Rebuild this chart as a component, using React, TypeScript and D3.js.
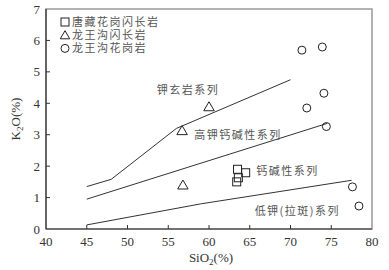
import React from "react";
import * as d3 from "d3";

const xTicks = [40, 45, 50, 55, 60, 65, 70, 75, 80];
const yTicks = [0, 1, 2, 3, 4, 5, 6, 7];

const squareX = [63.5, 64.5, 63.6, 63.4];
const squareY = [1.9, 1.79, 1.63, 1.5];
const triX = [56.7, 60.0, 56.8];
const triY = [3.13, 3.89, 1.4];
const circX = [71.4, 73.9, 74.1, 72.0, 74.4, 77.6, 78.4];
const circY = [5.69, 5.79, 4.32, 3.85, 3.26, 1.34, 0.73];

const lineShoshX = [45, 48, 56, 70];
const lineShoshY = [1.35, 1.58, 3.2, 4.75];
const lineHighKX = [45, 74.5];
const lineHighKY = [0.95, 3.36];
const lineLowKX = [45, 59, 77.5];
const lineLowKY = [0.13, 0.8, 1.55];

const legendLabels = ["唐藏花岗闪长岩", "龙王沟闪长岩", "龙王沟花岗岩"];
const seriesLabels = [
  { text: "钾玄岩系列", x: 53.6, y: 4.3 },
  { text: "高钾钙碱性系列", x: 58.2, y: 2.85 },
  { text: "钙碱性系列", x: 65.8, y: 1.73 },
  { text: "低钾(拉斑)系列", x: 65.6, y: 0.43 },
];

const W = 389, H = 270;
const left = 46, right = 372, top = 9, bottom = 229;

export default function App() {
  const x = d3.scaleLinear().domain([40, 80]).range([left, right]);
  const y = d3.scaleLinear().domain([0, 7]).range([bottom, top]);
  const line = d3.line<[number, number]>().x(d => x(d[0])).y(d => y(d[1]));
  const zip = (a: number[], b: number[]) => a.map((v, i) => [v, b[i]] as [number, number]);
  const serif = "'Liberation Serif', 'Times New Roman', serif";
  const cjk = "'Noto Sans CJK SC', sans-serif";
  const tri = (cx: number, cy: number, s = 5) =>
    `M${cx},${cy - s}L${cx + s * 1.05},${cy + s * 0.8}L${cx - s * 1.05},${cy + s * 0.8}Z`;
  const lineColor = "#333";
  return (
    <svg width={W} height={H} style={{ position: "absolute", left: 0, top: 0, background: "#fff" }}>
      <rect x={left} y={top} width={right - left} height={bottom - top} fill="none" stroke="#999" strokeWidth={1.5} />
      <line x1={left} x2={left} y1={top} y2={bottom} stroke="#333" strokeWidth={1.2} />
      <line x1={left} x2={right} y1={bottom} y2={bottom} stroke="#333" strokeWidth={1.2} />
      {xTicks.map(t => (
        <g key={"x" + t}>
          {t > 40 && t < 80 && <line x1={x(t)} x2={x(t)} y1={bottom} y2={bottom - 4} stroke="#333" />}
          <text x={x(t)} y={246} textAnchor="middle" fontFamily={serif} fontSize={13} fill="#333">{t}</text>
        </g>
      ))}
      {yTicks.map(t => (
        <g key={"y" + t}>
          {t > 0 && t < 7 && <line x1={left} x2={left + 4} y1={y(t)} y2={y(t)} stroke="#333" />}
          <text x={40} y={y(t) + 4.5} textAnchor="end" fontFamily={serif} fontSize={13} fill="#333">{t}</text>
        </g>
      ))}
      <text x={(left + right) / 2 + 2} y={262} textAnchor="middle" fontFamily={serif} fontSize={13} fill="#333">
        SiO<tspan fontSize={9} dy={3}>2</tspan><tspan dy={-3}>(%)</tspan>
      </text>
      <text transform={`translate(20,${(top + bottom) / 2}) rotate(-90)`} textAnchor="middle" fontFamily={serif} fontSize={13} fill="#333">
        K<tspan fontSize={9} dy={3}>2</tspan><tspan dy={-3}>O(%)</tspan>
      </text>
      <path d={line(zip(lineShoshX, lineShoshY)) || ""} fill="none" stroke={lineColor} strokeWidth={1} />
      <path d={line(zip(lineHighKX, lineHighKY)) || ""} fill="none" stroke={lineColor} strokeWidth={1} />
      <path d={line(zip(lineLowKX, lineLowKY)) || ""} fill="none" stroke={lineColor} strokeWidth={1} />
      {seriesLabels.map(s => (
        <text key={s.text} x={x(s.x)} y={y(s.y)} fontFamily={cjk} fontSize={11} letterSpacing={1.5} fill="#555">{s.text}</text>
      ))}
      {squareX.map((v, i) => (
        <rect key={"s" + i} x={x(v) - 4} y={y(squareY[i]) - 4} width={8} height={8} fill="none" stroke="#222" strokeWidth={1} />
      ))}
      {triX.map((v, i) => (
        <path key={"t" + i} d={tri(x(v), y(triY[i]))} fill="none" stroke="#222" strokeWidth={1} />
      ))}
      {circX.map((v, i) => (
        <circle key={"c" + i} cx={x(v)} cy={y(circY[i])} r={4} fill="none" stroke="#222" strokeWidth={1} />
      ))}
      {legendLabels.map((l, i) => {
        const cy = 22 + i * 13.2;
        return (
          <g key={l}>
            {i === 0 && <rect x={61} y={cy - 4} width={8} height={8} fill="none" stroke="#222" />}
            {i === 1 && <path d={tri(65, cy, 4.5)} fill="none" stroke="#222" />}
            {i === 2 && <circle cx={65} cy={cy} r={4} fill="none" stroke="#222" />}
            <text x={72} y={cy + 4} fontFamily={cjk} fontSize={11} letterSpacing={1.5} fill="#555">{l}</text>
          </g>
        );
      })}
    </svg>
  );
}
